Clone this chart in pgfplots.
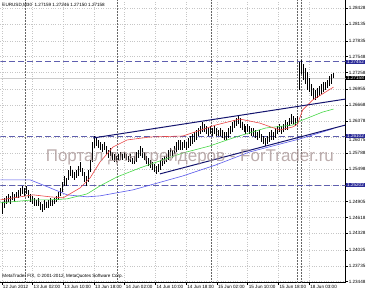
\documentclass[border=0pt]{standalone}
\usepackage{fontspec}
\setmainfont{Liberation Sans}
\usepackage{pgfplots}
\pgfplotsset{compat=1.18}
\usepackage{pgfplotstable}
\definecolor{lvl}{RGB}{95,95,175}
\definecolor{lvlbox}{RGB}{40,40,150}
\definecolor{chan}{RGB}{20,20,110}
\definecolor{mablue}{RGB}{90,90,235}
\definecolor{magreen}{RGB}{70,215,70}
\definecolor{mared}{RGB}{235,70,70}
\definecolor{wm}{RGB}{165,145,145}

\pgfplotstableread{
x lo hi
2 1.24684 1.24902
4 1.24793 1.24975
6 1.24866 1.25011
8 1.24902 1.25047
10 1.24866 1.25011
12 1.24938 1.25084
14 1.24902 1.25047
16 1.24975 1.25084
18 1.24975 1.25120
20 1.25011 1.25156
22 1.25047 1.25193
24 1.25011 1.25156
26 1.25047 1.25193
28 1.24975 1.25120
30 1.24902 1.25047
32 1.24866 1.25011
34 1.24829 1.24975
36 1.24829 1.24938
38 1.24829 1.24975
40 1.24756 1.24902
42 1.24720 1.24866
44 1.24756 1.24938
46 1.24793 1.24902
48 1.24793 1.24938
50 1.24829 1.24975
52 1.24829 1.24938
54 1.24866 1.24975
56 1.24902 1.25011
58 1.24938 1.25084
60 1.25011 1.25156
62 1.25084 1.25265
64 1.25193 1.25374
66 1.25193 1.25338
68 1.25302 1.25483
70 1.25374 1.25556
72 1.25338 1.25483
74 1.25302 1.25447
76 1.25338 1.25483
78 1.25374 1.25556
80 1.25447 1.25629
82 1.25374 1.25520
84 1.25265 1.25447
86 1.25193 1.25374
88 1.25265 1.25483
90 1.25447 1.25665
92 1.25629 1.25992
94 1.25883 1.26101
96 1.25920 1.26065
98 1.25883 1.26029
100 1.25847 1.25992
102 1.25811 1.25956
104 1.25847 1.25992
106 1.25774 1.25920
108 1.25702 1.25847
110 1.25738 1.25883
112 1.25665 1.25811
114 1.25629 1.25774
116 1.25629 1.25738
118 1.25665 1.25774
120 1.25665 1.25811
122 1.25665 1.25774
124 1.25702 1.25811
126 1.25665 1.25774
128 1.25629 1.25738
130 1.25629 1.25774
132 1.25593 1.25702
134 1.25593 1.25738
136 1.25629 1.25811
138 1.25702 1.25847
140 1.25738 1.25920
142 1.25702 1.25883
144 1.25665 1.25811
146 1.25593 1.25738
148 1.25556 1.25702
150 1.25520 1.25665
152 1.25483 1.25629
154 1.25447 1.25593
156 1.25411 1.25556
158 1.25447 1.25593
160 1.25483 1.25665
162 1.25556 1.25702
164 1.25593 1.25738
166 1.25629 1.25774
168 1.25665 1.25847
170 1.25738 1.25883
172 1.25702 1.25847
174 1.25774 1.25920
176 1.25811 1.25992
178 1.25847 1.26029
180 1.25847 1.26029
182 1.25847 1.25992
184 1.25883 1.26029
186 1.25847 1.25992
188 1.25883 1.26065
190 1.25920 1.26101
192 1.25956 1.26138
194 1.25992 1.26174
196 1.26029 1.26210
198 1.26101 1.26247
200 1.26138 1.26283
202 1.26174 1.26356
204 1.26174 1.26319
206 1.26138 1.26283
208 1.26101 1.26247
210 1.26138 1.26283
212 1.26101 1.26247
214 1.26138 1.26283
216 1.26101 1.26247
218 1.26101 1.26210
220 1.26101 1.26247
222 1.26065 1.26210
224 1.26029 1.26174
226 1.26029 1.26174
228 1.26065 1.26247
230 1.26138 1.26283
232 1.26174 1.26356
234 1.26247 1.26392
236 1.26283 1.26428
238 1.26319 1.26465
240 1.26247 1.26428
242 1.26210 1.26356
244 1.26174 1.26319
246 1.26138 1.26283
248 1.26174 1.26319
250 1.26138 1.26283
252 1.26101 1.26247
254 1.26101 1.26247
256 1.26065 1.26210
258 1.26029 1.26174
260 1.26065 1.26210
262 1.25992 1.26138
264 1.25956 1.26101
266 1.25920 1.26065
268 1.25956 1.26101
270 1.25992 1.26174
272 1.26029 1.26210
274 1.26029 1.26174
276 1.26065 1.26247
278 1.26138 1.26283
280 1.26174 1.26319
282 1.26138 1.26283
284 1.26174 1.26319
286 1.26210 1.26392
288 1.26210 1.26356
290 1.26283 1.26428
292 1.26319 1.26501
294 1.26319 1.26465
296 1.26283 1.26428
298 1.26319 1.26465
300 1.26937 1.27446
302 1.27228 1.27483
304 1.27119 1.27410
306 1.27046 1.27337
308 1.26937 1.27264
310 1.26901 1.27155
312 1.26828 1.27046
314 1.26756 1.26974
316 1.26756 1.26937
318 1.26792 1.26974
320 1.26828 1.27010
322 1.26865 1.27046
324 1.26901 1.27083
326 1.26937 1.27083
328 1.26974 1.27119
330 1.27010 1.27192
332 1.27046 1.27228
334 1.27150 1.27246
}\bars

\begin{document}
\begin{tikzpicture}
\begin{axis}[
  scale only axis, width=346pt, height=283pt,
  xmin=0, xmax=346, ymin=1.23430, ymax=1.28573,
  clip mode=individual,
  axis x line*=bottom, axis y line*=right,
  axis line style={black, line width=0.6pt, -},
  /pgf/number format/assume math mode=true,
  tick label style={font=\fontsize{4.6}{5}\selectfont, text=black},
  ytick={1.28428,1.28135,1.27835,1.27548,1.27258,1.26955,1.26668,1.26378,1.26075,1.25788,1.25498,1.25208,1.24905,1.24618,1.24328,1.24025,1.23735,1.23448},
  yticklabels={1.28428,1.28135,1.27835,1.27548,1.27258,1.26955,1.26668,1.26378,,1.25788,1.25498,,1.24905,1.24618,1.24328,1.24025,1.23735,1.23448},
  xtick={1.5,32.3,63.1,93.9,124.7,155.5,186.3,217.1,247.9,278.7,309.5},
  xticklabels={12 Jun 2012,13 Jun 02:00,13 Jun 10:00,13 Jun 18:00,14 Jun 02:00,14 Jun 10:00,14 Jun 18:00,15 Jun 02:00,15 Jun 10:00,15 Jun 18:00,18 Jun 03:00},
  xticklabel style={anchor=north west, inner sep=1pt, yshift=0.5pt},
  yticklabel style={anchor=west, inner sep=0.6pt, xshift=0.5pt},
  tick align=outside, major tick length=2pt,
  tick style={black, line width=0.5pt},
  grid=major,
  major grid style={gray!45, dotted, line width=0.5pt},
]
% period separators
\addplot[gray!80!black, dash pattern=on 2pt off 1pt, line width=0.5pt] coordinates {(25,1.2343) (25,1.28573)};
\addplot[gray!80!black, dash pattern=on 2pt off 1pt, line width=0.5pt] coordinates {(117,1.2343) (117,1.28573)};
\addplot[gray!80!black, dash pattern=on 2pt off 1pt, line width=0.5pt] coordinates {(211,1.2343) (211,1.28573)};
\addplot[gray!80!black, dash pattern=on 2pt off 1pt, line width=0.5pt] coordinates {(298,1.2343) (298,1.28573)};
\addplot[gray!80!black, dash pattern=on 2pt off 1pt, line width=0.5pt] coordinates {(302,1.2343) (302,1.28573)};
% horizontal levels
\addplot[lvl, dash pattern=on 6pt off 3pt, line width=0.8pt] coordinates {(0,1.27452) (346,1.27452)};
\addplot[lvl, dash pattern=on 6pt off 3pt, line width=0.8pt] coordinates {(0,1.26102) (346,1.26102)};
\addplot[lvl, dash pattern=on 6pt off 3pt, line width=0.8pt] coordinates {(0,1.25202) (346,1.25202)};
% bid line
\addplot[gray!40, line width=0.5pt] coordinates {(0,1.27158) (346,1.27158)};
% bars
\addplot[draw=none, mark=none,
  error bars/.cd, y dir=plus, y explicit, error mark=none,
  error bar style={draw=black, line width=0.5pt}]
  table[x=x, y=lo, y error plus expr=\thisrow{hi}-\thisrow{lo}] {\bars};
% moving averages
\addplot[mablue, line width=0.6pt] coordinates {(0,1.25302) (30,1.25302) (45,1.25193) (67,1.25029) (87,1.24993) (100,1.25011) (133,1.25120) (183,1.25374) (216,1.25574) (250,1.25811) (300,1.26047) (334,1.26237)};
\addplot[magreen, line width=0.6pt] coordinates {(0,1.24884) (33,1.24938) (50,1.24938) (67,1.24956) (87,1.25047) (100,1.25193) (117,1.25356) (140,1.25520) (157,1.25629) (183,1.25792) (210,1.25920) (236,1.26083) (266,1.26247) (293,1.26301) (298,1.26356) (323,1.26537) (334,1.26592)};
\addplot[mared, line width=0.6pt] coordinates {(0,1.24938) (20,1.24993) (33,1.25029) (50,1.24993) (63,1.24975) (80,1.25156) (90,1.25338) (100,1.25629) (113,1.25901) (127,1.26029) (150,1.26083) (183,1.26101) (216,1.26301) (240,1.26410) (260,1.26337) (280,1.26210) (293,1.26265) (298,1.26319) (303,1.26574) (313,1.26756) (334,1.26992)};
% channel lines
\addplot[chan, line width=1pt] coordinates {(93,1.26065) (346,1.26774)};
\addplot[chan, line width=1pt] coordinates {(160,1.25411) (346,1.26301)};
% watermark
\node[text=wm, opacity=0.75, font=\fontsize{17}{17}\selectfont, anchor=center] at (axis cs:190,1.2572) {Портал для трейдеров - ForTrader.ru};
% texts
\node[anchor=north west, inner sep=0pt, font=\fontsize{4.6}{5}\selectfont] at (axis cs:2,1.28520) {EURUSD,M30\ \ 1.27159 1.27246 1.27150 1.27158};
\node[anchor=south west, inner sep=0pt, font=\fontsize{4.6}{5}\selectfont] at (axis cs:2,1.2350) {MetaTrader FIX, © 2001-2012, MetaQuotes Software Corp.};
% shifted tick label below the level box
\node[anchor=west, inner sep=0.6pt, yshift=-2pt, font=\fontsize{4.6}{5}\selectfont] at (axis cs:348.5,1.26075) {1.26075};
% right boxes
\node[fill=lvlbox, text=white, anchor=west, inner xsep=1pt, inner ysep=0.3pt, font=\fontsize{4.6}{5}\selectfont] at (axis cs:346.5,1.27452) {1.27452};
\node[fill=black, text=white, anchor=west, inner xsep=1pt, inner ysep=0.3pt, font=\fontsize{4.6}{5}\selectfont] at (axis cs:346.5,1.27158) {1.27158};
\node[fill=lvlbox, text=white, anchor=west, inner xsep=1pt, inner ysep=0.3pt, font=\fontsize{4.6}{5}\selectfont] at (axis cs:346.5,1.26102) {1.26102};
\node[fill=lvlbox, text=white, anchor=west, inner xsep=1pt, inner ysep=0.3pt, font=\fontsize{4.6}{5}\selectfont] at (axis cs:346.5,1.25202) {1.25202};
\end{axis}
\end{tikzpicture}
\end{document}
